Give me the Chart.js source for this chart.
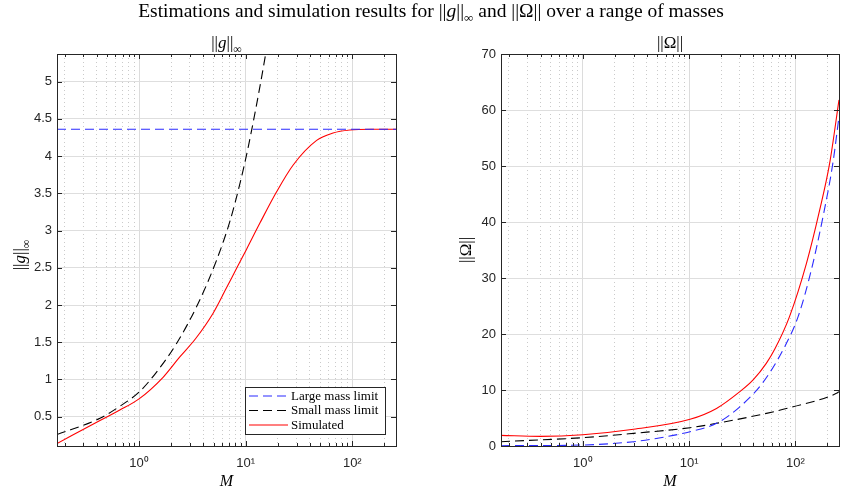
<!DOCTYPE html>
<html>
<head>
<meta charset="utf-8">
<script src="https://cdn.jsdelivr.net/npm/chart.js@4.4.1/dist/chart.umd.min.js"></script>
<style>
  body { margin: 0; background: #fff; }
  #wrap { position: relative; width: 842px; height: 491px; overflow: hidden; }
  #supTitle {
    position: absolute; top: 0px; left: 0; width: 842px; padding-left: 20px; box-sizing: border-box;
    text-align: center; font-family: "Liberation Serif", serif; font-size: 19.5px; color: #000; white-space: nowrap;
  }
  #supTitle sub { font-size: 13px; line-height: 0; }
  canvas { position: absolute; top: 0; }
</style>
</head>
<body>
<div id="wrap">
  <canvas id="gChart" width="421" height="491" style="left:0"></canvas>
  <canvas id="wChart" width="421" height="491" style="left:421px"></canvas>
  <div id="supTitle">Estimations and simulation results for ||<i>g</i>||<sub>∞</sub> and ||Ω|| over a range of masses</div>
</div>
<script>
// mass axis (log)
const massRange = [0.17, 257];
const xMajor = [1, 10, 100];
const xTickLabels = ['10⁰', '10¹', '10²'];

// left panel: ||g||_inf
const gRange = [0.107, 5.37];
const gTicks = [0.5, 1, 1.5, 2, 2.5, 3, 3.5, 4, 4.5, 5];
const gLargeMass = [0.17, 257];
const gLargeValue = [4.36, 4.36];
const gSmallMass = [0.17, 0.43, 0.66, 1, 1.46, 2.24, 3.58, 5.33, 7.1, 8.83, 10.6, 15.4, 20];
const gSmallValue = [0.26, 0.48, 0.64, 0.83, 1.10, 1.48, 2.02, 2.60, 3.12, 3.63, 4.13, 5.37, 6.4];
const gSimMass = [0.17, 0.43, 0.66, 1, 1.68, 2.4, 3.4, 4.95, 6.5, 8.2, 10.2, 13.6, 19.5, 27.9, 46.3, 66, 95, 150, 257];
const gSimValue = [0.14, 0.45, 0.59, 0.74, 1.03, 1.30, 1.55, 1.89, 2.21, 2.49, 2.75, 3.10, 3.52, 3.88, 4.21, 4.31, 4.35, 4.36, 4.36];

// right panel: ||Omega||
const wRange = [0, 70];
const wTicks = [0, 10, 20, 30, 40, 50, 60, 70];
const wLargeMass = [0.17, 1, 3, 6.15, 10.2, 18.1, 30, 49.7, 79.6, 106, 141, 182, 225, 257];
const wLargeValue = [0.05, 0.18, 0.77, 1.67, 2.56, 4.05, 7.0, 11.4, 17.8, 23.1, 31.4, 41.0, 50.5, 58.8];
const wSmallMass = [0.17, 1, 3, 10.2, 18.1, 53.4, 95, 243, 257];
const wSmallValue = [0.77, 1.49, 2.26, 3.27, 4.05, 5.83, 7.0, 9.4, 9.7];
const wSimMass = [0.17, 0.4, 1, 3, 10.2, 18.1, 30, 40, 53.4, 64, 88, 127, 169, 210, 257];
const wSimValue = [1.9, 1.72, 2.0, 2.98, 4.76, 6.7, 9.7, 11.8, 14.8, 17.3, 23.1, 32.6, 42.1, 50.5, 61.8];

const seriesLabels = ['Large mass limit', 'Small mass limit', 'Simulated'];

const AXIS = '#262626';
const SERIF = '"Liberation Serif", serif';

function pts(xs, ys) {
  return xs.map((x, i) => ({ x: x, y: ys[i] }));
}

// 1..9 x 10^k ticks inside the mass range
function logTicks() {
  const out = [];
  [0.1, 1, 10, 100].forEach(dec => {
    for (let k = 1; k <= 9; k++) {
      const v = k * dec;
      if (v >= massRange[0] && v <= massRange[1]) out.push({ value: v, major: k === 1 });
    }
  });
  return out;
}

function drawRich(ctx, segs, cx, cy, size, rotate) {
  const fontOf = s => (s.it ? 'italic ' : '') + (s.sub ? Math.round(size * 0.72) : size) + 'px ' + SERIF;
  ctx.save();
  ctx.translate(cx, cy);
  if (rotate) ctx.rotate(-Math.PI / 2);
  let w = 0;
  segs.forEach(s => { ctx.font = fontOf(s); w += ctx.measureText(s.t).width; });
  let x = -w / 2;
  ctx.fillStyle = '#000';
  ctx.textAlign = 'left';
  ctx.textBaseline = 'alphabetic';
  segs.forEach(s => {
    ctx.font = fontOf(s);
    ctx.fillText(s.t, x, size * 0.3 + (s.sub ? size * 0.28 : 0));
    x += ctx.measureText(s.t).width;
  });
  ctx.restore();
}

function drawLegend(chart, L) {
  const ctx = chart.ctx;
  ctx.fillStyle = '#fff';
  ctx.fillRect(L.x, L.y, L.w, L.h);
  ctx.strokeStyle = AXIS;
  ctx.lineWidth = 1;
  ctx.strokeRect(L.x + 0.5, L.y + 0.5, L.w, L.h);
  chart.data.datasets.forEach((ds, i) => {
    const yy = L.y + 9 + i * 14.5;
    ctx.beginPath();
    ctx.setLineDash(ds.borderDash || []);
    ctx.strokeStyle = ds.borderColor;
    ctx.lineWidth = ds.borderWidth;
    ctx.moveTo(L.x + 4, yy);
    ctx.lineTo(L.x + 43, yy);
    ctx.stroke();
    ctx.setLineDash([]);
    ctx.font = '13px ' + SERIF;
    ctx.fillStyle = '#000';
    ctx.textBaseline = 'middle';
    ctx.textAlign = 'left';
    ctx.fillText(ds.label, L.x + 46, yy + 0.5);
  });
}

// MATLAB-like box with inward ticks, legend and rich-text labels
const framePlugin = {
  id: 'frame',
  afterDatasetsDraw(chart, args, opts) {
    const { ctx, chartArea: a, scales: { x, y } } = chart;
    ctx.save();
    ctx.strokeStyle = AXIS;
    ctx.lineWidth = 1;
    ctx.beginPath();
    x.ticks.forEach(t => {
      const px = Math.round(x.getPixelForValue(t.value)) + 0.5;
      const len = t.major ? 5 : 3;
      ctx.moveTo(px, a.bottom); ctx.lineTo(px, a.bottom - len);
      ctx.moveTo(px, a.top); ctx.lineTo(px, a.top + len);
    });
    y.ticks.forEach(t => {
      const py = Math.round(y.getPixelForValue(t.value)) + 0.5;
      ctx.moveTo(a.left, py); ctx.lineTo(a.left + 5, py);
      ctx.moveTo(a.right, py); ctx.lineTo(a.right - 5, py);
    });
    ctx.stroke();
    ctx.strokeRect(Math.round(a.left) + 0.5, Math.round(a.top) + 0.5,
      Math.round(a.right - a.left), Math.round(a.bottom - a.top));
    if (opts.legend) drawLegend(chart, opts.legend);
    ctx.restore();
  },
  afterDraw(chart, args, opts) {
    const { ctx, chartArea: a } = chart;
    const mid = (a.left + a.right) / 2;
    drawRich(ctx, opts.title, mid, 43, 17, false);
    drawRich(ctx, opts.title, opts.yTitleX, opts.yTitleY, 17, true);
    drawRich(ctx, [{ t: 'M', it: true }], mid, 481, 16, false);
  }
};

function makeChart(id, cfg) {
  const styles = [
    { color: '#2b2bff', dash: [9, 5] },
    { color: '#000000', dash: [9, 5] },
    { color: '#ff0000', dash: [] }
  ];
  const datasets = cfg.series.map((s, i) => ({
    label: seriesLabels[i],
    data: pts(s[0], s[1]),
    borderColor: styles[i].color,
    borderDash: styles[i].dash,
    borderWidth: 1.1,
    pointRadius: 0,
    cubicInterpolationMode: 'monotone',
    fill: false
  }));

  return new Chart(document.getElementById(id), {
    type: 'line',
    data: { datasets },
    plugins: [framePlugin],
    options: {
      responsive: false,
      animation: false,
      layout: { padding: { left: 0, right: cfg.padRight, top: 54, bottom: 0 } },
      plugins: {
        legend: { display: false },
        tooltip: { enabled: false },
        frame: {
          title: cfg.title,
          yTitleX: cfg.yTitleX,
          yTitleY: cfg.yTitleY,
          legend: cfg.legend
        }
      },
      scales: {
        x: {
          type: 'logarithmic',
          min: massRange[0],
          max: massRange[1],
          afterBuildTicks: s => { s.ticks = logTicks(); },
          afterFit: s => { s.height = 45; },
          grid: {
            drawTicks: false,
            lineWidth: 1,
            color: c => (c.tick && c.tick.major) ? '#dcdcdc' : '#cacaca'
          },
          border: { display: false, dash: c => (c.tick && c.tick.major) ? [] : [1, 3] },
          ticks: {
            autoSkip: false,
            maxRotation: 0,
            padding: 10,
            color: AXIS,
            font: { family: 'Liberation Sans', size: 13 },
            callback: function (value) {
              const i = xMajor.findIndex(m => Math.abs(m - value) < 1e-9 * m);
              return i >= 0 ? xTickLabels[i] : '';
            }
          }
        },
        y: {
          type: 'linear',
          min: cfg.yRange[0],
          max: cfg.yRange[1],
          afterBuildTicks: s => { s.ticks = cfg.yTicks.map(v => ({ value: v })); },
          afterFit: s => { s.width = cfg.yWidth; },
          grid: { drawTicks: false, color: '#dedede', lineWidth: 1 },
          border: { display: false },
          ticks: {
            padding: 5,
            color: AXIS,
            font: { family: 'Liberation Sans', size: 13 },
            callback: v => String(v)
          }
        }
      }
    }
  });
}

makeChart('gChart', {
  series: [[gLargeMass, gLargeValue], [gSmallMass, gSmallValue], [gSimMass, gSimValue]],
  yRange: gRange,
  yTicks: gTicks,
  yWidth: 57,
  padRight: 25,
  title: [{ t: '||' }, { t: 'g', it: true }, { t: '||' }, { t: '∞', sub: true }],
  yTitleX: 20,
  yTitleY: 255,
  legend: { x: 245, y: 387, w: 140, h: 47 }
});

makeChart('wChart', {
  series: [[wLargeMass, wLargeValue], [wSmallMass, wSmallValue], [wSimMass, wSimValue]],
  yRange: wRange,
  yTicks: wTicks,
  yWidth: 80,
  padRight: 3,
  title: [{ t: '||Ω||' }],
  yTitleX: 45,
  yTitleY: 250,
  legend: null
});
</script>
</body>
</html>
